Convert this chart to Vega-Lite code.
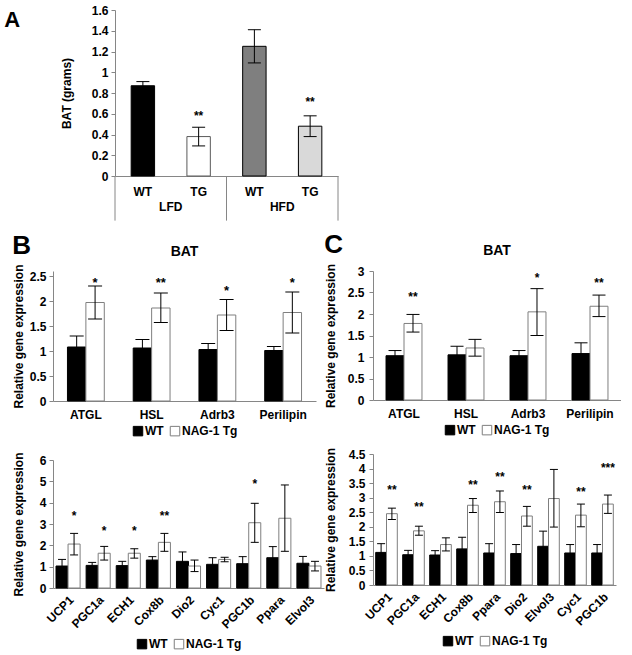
{
  "$schema": "https://vega.github.io/schema/vega-lite/v6.json",
  "padding": {"left": 4, "top": 4, "right": 0, "bottom": 0},
  "background": "white",
  "config": {
    "font": "Liberation Sans",
    "view": {"stroke": null},
    "axis": {"domainColor": "#868686", "tickColor": "#868686", "labelFont": "Liberation Sans", "labelFontSize": 12, "labelFontWeight": "bold", "labelColor": "#000000", "titleFont": "Liberation Sans", "titleFontSize": 12, "titleFontWeight": "bold", "titleColor": "#000000", "grid": false, "tickSize": 4, "labelPadding": 3, "labelOverlap": false},
    "axisX": {"ticks": false},
    "axisY": {"titlePadding": 8},
    "legend": {"orient": "bottom", "direction": "horizontal", "symbolType": "square", "symbolSize": 90, "symbolStrokeWidth": 1, "labelFont": "Liberation Sans", "labelFontSize": 12, "labelFontWeight": "bold", "labelColor": "#000000", "columnPadding": 4, "labelOffset": 1, "offset": 5, "padding": 0, "layout": {"bottom": {"anchor": "middle"}}}
  },
  "datasets": {
    "a": [
      {"diet": "LFD", "genotype": "WT", "group": "LFD WT", "mean": 0.87, "lo": 0.83, "hi": 0.91, "sig": "", "sig_y": null},
      {"diet": "LFD", "genotype": "TG", "group": "LFD TG", "mean": 0.38, "lo": 0.29, "hi": 0.47, "sig": "**", "sig_y": 0.61},
      {"diet": "HFD", "genotype": "WT", "group": "HFD WT", "mean": 1.25, "lo": 1.09, "hi": 1.41, "sig": "", "sig_y": null},
      {"diet": "HFD", "genotype": "TG", "group": "HFD TG", "mean": 0.48, "lo": 0.38, "hi": 0.58, "sig": "**", "sig_y": 0.74}
    ],
    "b1": [
      {"gene": "ATGL", "genotype": "WT", "mean": 1.08, "lo": 0.86, "hi": 1.30, "sig": "", "sig_y": null},
      {"gene": "ATGL", "genotype": "NAG-1 Tg", "mean": 1.97, "lo": 1.64, "hi": 2.30, "sig": "*", "sig_y": 2.45},
      {"gene": "HSL", "genotype": "WT", "mean": 1.06, "lo": 0.89, "hi": 1.23, "sig": "", "sig_y": null},
      {"gene": "HSL", "genotype": "NAG-1 Tg", "mean": 1.86, "lo": 1.57, "hi": 2.16, "sig": "**", "sig_y": 2.45},
      {"gene": "Adrb3", "genotype": "WT", "mean": 1.03, "lo": 0.91, "hi": 1.15, "sig": "", "sig_y": null},
      {"gene": "Adrb3", "genotype": "NAG-1 Tg", "mean": 1.72, "lo": 1.41, "hi": 2.03, "sig": "*", "sig_y": 2.28},
      {"gene": "Perilipin", "genotype": "WT", "mean": 1.01, "lo": 0.93, "hi": 1.09, "sig": "", "sig_y": null},
      {"gene": "Perilipin", "genotype": "NAG-1 Tg", "mean": 1.77, "lo": 1.36, "hi": 2.18, "sig": "*", "sig_y": 2.45}
    ],
    "c1": [
      {"gene": "ATGL", "genotype": "WT", "mean": 1.03, "lo": 0.91, "hi": 1.15, "sig": "", "sig_y": null},
      {"gene": "ATGL", "genotype": "NAG-1 Tg", "mean": 1.78, "lo": 1.58, "hi": 1.99, "sig": "**", "sig_y": 2.46},
      {"gene": "HSL", "genotype": "WT", "mean": 1.05, "lo": 0.85, "hi": 1.25, "sig": "", "sig_y": null},
      {"gene": "HSL", "genotype": "NAG-1 Tg", "mean": 1.21, "lo": 1.02, "hi": 1.41, "sig": "", "sig_y": null},
      {"gene": "Adrb3", "genotype": "WT", "mean": 1.03, "lo": 0.91, "hi": 1.15, "sig": "", "sig_y": null},
      {"gene": "Adrb3", "genotype": "NAG-1 Tg", "mean": 2.05, "lo": 1.50, "hi": 2.59, "sig": "*", "sig_y": 2.90},
      {"gene": "Perilipin", "genotype": "WT", "mean": 1.08, "lo": 0.83, "hi": 1.33, "sig": "", "sig_y": null},
      {"gene": "Perilipin", "genotype": "NAG-1 Tg", "mean": 2.18, "lo": 1.94, "hi": 2.44, "sig": "**", "sig_y": 2.80}
    ],
    "b2": [
      {"gene": "UCP1", "genotype": "WT", "mean": 1.03, "lo": 0.72, "hi": 1.34, "sig": "", "sig_y": null},
      {"gene": "UCP1", "genotype": "NAG-1 Tg", "mean": 2.06, "lo": 1.55, "hi": 2.56, "sig": "*", "sig_y": 3.53},
      {"gene": "PGC1a", "genotype": "WT", "mean": 1.06, "lo": 0.92, "hi": 1.20, "sig": "", "sig_y": null},
      {"gene": "PGC1a", "genotype": "NAG-1 Tg", "mean": 1.63, "lo": 1.31, "hi": 1.95, "sig": "*", "sig_y": 2.8},
      {"gene": "ECH1", "genotype": "WT", "mean": 1.05, "lo": 0.85, "hi": 1.25, "sig": "", "sig_y": null},
      {"gene": "ECH1", "genotype": "NAG-1 Tg", "mean": 1.63, "lo": 1.40, "hi": 1.84, "sig": "*", "sig_y": 2.8},
      {"gene": "Cox8b", "genotype": "WT", "mean": 1.31, "lo": 1.15, "hi": 1.47, "sig": "", "sig_y": null},
      {"gene": "Cox8b", "genotype": "NAG-1 Tg", "mean": 2.14, "lo": 1.72, "hi": 2.56, "sig": "**", "sig_y": 3.5},
      {"gene": "Dio2", "genotype": "WT", "mean": 1.25, "lo": 0.81, "hi": 1.69, "sig": "", "sig_y": null},
      {"gene": "Dio2", "genotype": "NAG-1 Tg", "mean": 1.03, "lo": 0.77, "hi": 1.31, "sig": "", "sig_y": null},
      {"gene": "Cyc1", "genotype": "WT", "mean": 1.11, "lo": 0.80, "hi": 1.42, "sig": "", "sig_y": null},
      {"gene": "Cyc1", "genotype": "NAG-1 Tg", "mean": 1.34, "lo": 1.23, "hi": 1.44, "sig": "", "sig_y": null},
      {"gene": "PGC1b", "genotype": "WT", "mean": 1.14, "lo": 0.81, "hi": 1.47, "sig": "", "sig_y": null},
      {"gene": "PGC1b", "genotype": "NAG-1 Tg", "mean": 3.06, "lo": 2.14, "hi": 3.97, "sig": "*", "sig_y": 5.02},
      {"gene": "Ppara", "genotype": "WT", "mean": 1.42, "lo": 0.90, "hi": 1.94, "sig": "", "sig_y": null},
      {"gene": "Ppara", "genotype": "NAG-1 Tg", "mean": 3.27, "lo": 1.72, "hi": 4.83, "sig": "", "sig_y": null},
      {"gene": "Elvol3", "genotype": "WT", "mean": 1.16, "lo": 0.84, "hi": 1.48, "sig": "", "sig_y": null},
      {"gene": "Elvol3", "genotype": "NAG-1 Tg", "mean": 1.03, "lo": 0.80, "hi": 1.25, "sig": "", "sig_y": null}
    ],
    "c2": [
      {"gene": "UCP1", "genotype": "WT", "mean": 1.12, "lo": 0.82, "hi": 1.42, "sig": "", "sig_y": null},
      {"gene": "UCP1", "genotype": "NAG-1 Tg", "mean": 2.45, "lo": 2.25, "hi": 2.64, "sig": "**", "sig_y": 3.36},
      {"gene": "PGC1a", "genotype": "WT", "mean": 1.04, "lo": 0.89, "hi": 1.19, "sig": "", "sig_y": null},
      {"gene": "PGC1a", "genotype": "NAG-1 Tg", "mean": 1.86, "lo": 1.71, "hi": 2.02, "sig": "**", "sig_y": 2.78},
      {"gene": "ECH1", "genotype": "WT", "mean": 1.03, "lo": 0.88, "hi": 1.18, "sig": "", "sig_y": null},
      {"gene": "ECH1", "genotype": "NAG-1 Tg", "mean": 1.39, "lo": 1.17, "hi": 1.62, "sig": "", "sig_y": null},
      {"gene": "Cox8b", "genotype": "WT", "mean": 1.24, "lo": 0.84, "hi": 1.64, "sig": "", "sig_y": null},
      {"gene": "Cox8b", "genotype": "NAG-1 Tg", "mean": 2.74, "lo": 2.49, "hi": 2.97, "sig": "**", "sig_y": 3.55},
      {"gene": "Ppara", "genotype": "WT", "mean": 1.10, "lo": 0.78, "hi": 1.42, "sig": "", "sig_y": null},
      {"gene": "Ppara", "genotype": "NAG-1 Tg", "mean": 2.86, "lo": 2.49, "hi": 3.23, "sig": "**", "sig_y": 3.83},
      {"gene": "Dio2", "genotype": "WT", "mean": 1.08, "lo": 0.77, "hi": 1.39, "sig": "", "sig_y": null},
      {"gene": "Dio2", "genotype": "NAG-1 Tg", "mean": 2.37, "lo": 2.02, "hi": 2.70, "sig": "**", "sig_y": 3.38},
      {"gene": "Elvol3", "genotype": "WT", "mean": 1.33, "lo": 0.81, "hi": 1.85, "sig": "", "sig_y": null},
      {"gene": "Elvol3", "genotype": "NAG-1 Tg", "mean": 2.97, "lo": 1.99, "hi": 3.97, "sig": "", "sig_y": null},
      {"gene": "Cyc1", "genotype": "WT", "mean": 1.10, "lo": 0.81, "hi": 1.39, "sig": "", "sig_y": null},
      {"gene": "Cyc1", "genotype": "NAG-1 Tg", "mean": 2.40, "lo": 2.00, "hi": 2.78, "sig": "**", "sig_y": 3.31},
      {"gene": "PGC1b", "genotype": "WT", "mean": 1.10, "lo": 0.81, "hi": 1.39, "sig": "", "sig_y": null},
      {"gene": "PGC1b", "genotype": "NAG-1 Tg", "mean": 2.78, "lo": 2.46, "hi": 3.09, "sig": "***", "sig_y": 4.12}
    ]
  },
  "resolve": {"scale": {"fill": "independent", "stroke": "independent", "xOffset": "independent"}},
  "spacing": 10,
  "vconcat": [
    {
      "width": 285,
      "height": 166,
      "title": {"text": "A", "orient": "left", "angle": 0, "anchor": "end", "align": "right", "baseline": "top", "fontSize": 22, "fontWeight": "bold", "offset": 17, "frame": "group"},
      "data": {"name": "a"},
      "encoding": {
        "x": {"field": "diet", "type": "nominal", "sort": ["LFD", "HFD"], "scale": {"paddingInner": 0, "paddingOuter": 0, "range": [62, 285]}, "axis": {"title": null, "labelAngle": 0, "labelPadding": 25}}
      },
      "layer": [
        {
          "mark": {"type": "bar", "strokeWidth": 1},
          "encoding": {
            "xOffset": {"field": "genotype", "type": "nominal", "sort": ["WT", "TG"], "scale": {"paddingInner": 0.58, "paddingOuter": 0.29}},
            "y": {"field": "mean", "type": "quantitative", "stack": null, "scale": {"domain": [0, 1.6]}, "axis": {"title": "BAT (grams)", "offset": -62, "titlePadding": 18, "tickCount": 20, "labelOverlap": false, "values": [0, 0.2, 0.4, 0.6, 0.8, 1, 1.2, 1.4, 1.6], "format": "~g"}},
            "fill": {"field": "group", "type": "nominal", "scale": {"domain": ["LFD WT", "LFD TG", "HFD WT", "HFD TG"], "range": ["#000000", "#ffffff", "#7f7f7f", "#d9d9d9"]}, "legend": null},
            "stroke": {"field": "group", "type": "nominal", "scale": {"domain": ["LFD WT", "LFD TG", "HFD WT", "HFD TG"], "range": ["#000000", "#5a5a5a", "#000000", "#000000"]}, "legend": null}
          }
        },
        {
          "mark": {"type": "rule", "color": "#000000", "strokeWidth": 1},
          "encoding": {"xOffset": {"field": "genotype", "type": "nominal", "sort": ["WT", "TG"]}, "y": {"field": "lo", "type": "quantitative"}, "y2": {"field": "hi"}}
        },
        {
          "mark": {"type": "tick", "color": "#000000", "size": 13, "thickness": 1, "opacity": 1},
          "encoding": {"xOffset": {"field": "genotype", "type": "nominal", "sort": ["WT", "TG"]}, "y": {"field": "lo", "type": "quantitative"}}
        },
        {
          "mark": {"type": "tick", "color": "#000000", "size": 13, "thickness": 1, "opacity": 1},
          "encoding": {"xOffset": {"field": "genotype", "type": "nominal", "sort": ["WT", "TG"]}, "y": {"field": "hi", "type": "quantitative"}}
        },
        {
          "transform": [{"filter": "datum.sig != ''"}],
          "mark": {"type": "text", "fontSize": 12, "fontWeight": "bold", "baseline": "alphabetic", "dy": 7, "color": "#000000"},
          "encoding": {"xOffset": {"field": "genotype", "type": "nominal", "sort": ["WT", "TG"]}, "y": {"field": "sig_y", "type": "quantitative"}, "text": {"field": "sig"}}
        },
        {
          "mark": {"type": "text", "fontSize": 12, "fontWeight": "bold", "baseline": "middle", "color": "#000000"},
          "encoding": {"xOffset": {"field": "genotype", "type": "nominal", "sort": ["WT", "TG"]}, "y": {"datum": -0.155}, "text": {"field": "genotype"}}
        },
        {
          "transform": [{"filter": "datum.genotype == 'WT'"}],
          "mark": {"type": "rule", "color": "#868686", "strokeWidth": 1},
          "encoding": {"x": {"field": "diet", "type": "nominal", "bandPosition": 0}, "y": {"datum": 0}, "y2": {"datum": -0.43}}
        },
        {
          "transform": [{"filter": "datum.genotype == 'TG' && datum.diet == 'HFD'"}],
          "mark": {"type": "rule", "color": "#868686", "strokeWidth": 1},
          "encoding": {"x": {"field": "diet", "type": "nominal", "bandPosition": 1}, "y": {"datum": 0}, "y2": {"datum": -0.43}}
        }
      ]
    },
    {
      "resolve": {"scale": {"fill": "independent", "stroke": "independent", "xOffset": "independent"}},
      "spacing": 0,
      "hconcat": [
        {
          "title": {"text": "B", "anchor": "start", "frame": "bounds", "fontSize": 26, "fontWeight": "bold", "offset": -14},
          "resolve": {"scale": {"fill": "independent", "stroke": "independent", "xOffset": "independent"}},
          "spacing": 13,
          "vconcat": [
            {
              "width": 263,
              "height": 130,
              "title": {"text": "BAT", "fontSize": 14, "fontWeight": "bold", "offset": 5, "anchor": "middle"},
              "data": {"name": "b1"},
              "encoding": {
                "x": {"field": "gene", "type": "nominal", "sort": ["ATGL", "HSL", "Adrb3", "Perilipin"], "scale": {"paddingInner": 0.44, "paddingOuter": 0.22}, "axis": {"title": null, "labelAngle": 0, "labelPadding": 8}},
                "xOffset": {"field": "genotype", "type": "nominal", "sort": ["WT", "NAG-1 Tg"]}
              },
              "layer": [
                {
                  "mark": {"type": "bar", "strokeWidth": 1},
                  "encoding": {
                    "y": {"field": "mean", "type": "quantitative", "stack": null, "scale": {"domain": [0, 2.5]}, "axis": {"title": "Relative gene expression", "titlePadding": 4, "tickCount": 20, "labelOverlap": false, "values": [0, 0.5, 1, 1.5, 2, 2.5], "format": "~g"}},
                    "fill": {"field": "genotype", "type": "nominal", "scale": {"domain": ["WT", "NAG-1 Tg"], "range": ["#000000", "#ffffff"]}, "legend": {"title": null}},
                    "stroke": {"field": "genotype", "type": "nominal", "scale": {"domain": ["WT", "NAG-1 Tg"], "range": ["#000000", "#7f7f7f"]}, "legend": {"title": null}}
                  }
                },
                {"mark": {"type": "rule", "color": "#000000", "strokeWidth": 1}, "encoding": {"y": {"field": "lo", "type": "quantitative"}, "y2": {"field": "hi"}}},
                {"mark": {"type": "tick", "color": "#000000", "size": 14, "thickness": 1, "opacity": 1}, "encoding": {"y": {"field": "lo", "type": "quantitative"}}},
                {"mark": {"type": "tick", "color": "#000000", "size": 14, "thickness": 1, "opacity": 1}, "encoding": {"y": {"field": "hi", "type": "quantitative"}}},
                {
                  "transform": [{"filter": "datum.sig != ''"}],
                  "mark": {"type": "text", "fontSize": 13, "fontWeight": "bold", "baseline": "alphabetic", "dy": 8, "color": "#000000"},
                  "encoding": {"y": {"field": "sig_y", "type": "quantitative"}, "text": {"field": "sig"}}
                }
              ]
            },
            {
              "width": 271,
              "height": 128,
              "data": {"name": "b2"},
              "encoding": {
                "x": {"field": "gene", "type": "nominal", "sort": ["UCP1", "PGC1a", "ECH1", "Cox8b", "Dio2", "Cyc1", "PGC1b", "Ppara", "Elvol3"], "scale": {"paddingInner": 0.2, "paddingOuter": 0.1}, "axis": {"title": null, "labelAngle": -45, "labelPadding": 6}},
                "xOffset": {"field": "genotype", "type": "nominal", "sort": ["WT", "NAG-1 Tg"]}
              },
              "layer": [
                {
                  "mark": {"type": "bar", "strokeWidth": 1},
                  "encoding": {
                    "y": {"field": "mean", "type": "quantitative", "stack": null, "scale": {"domain": [0, 6]}, "axis": {"title": "Relative gene expression", "titlePadding": 14, "tickCount": 20, "labelOverlap": false, "values": [0, 1, 2, 3, 4, 5, 6], "format": "~g"}},
                    "fill": {"field": "genotype", "type": "nominal", "scale": {"domain": ["WT", "NAG-1 Tg"], "range": ["#000000", "#ffffff"]}, "legend": {"title": null, "offset": 7}},
                    "stroke": {"field": "genotype", "type": "nominal", "scale": {"domain": ["WT", "NAG-1 Tg"], "range": ["#000000", "#7f7f7f"]}, "legend": {"title": null, "offset": 7}}
                  }
                },
                {"mark": {"type": "rule", "color": "#000000", "strokeWidth": 1}, "encoding": {"y": {"field": "lo", "type": "quantitative"}, "y2": {"field": "hi"}}},
                {"mark": {"type": "tick", "color": "#000000", "size": 8, "thickness": 1, "opacity": 1}, "encoding": {"y": {"field": "lo", "type": "quantitative"}}},
                {"mark": {"type": "tick", "color": "#000000", "size": 8, "thickness": 1, "opacity": 1}, "encoding": {"y": {"field": "hi", "type": "quantitative"}}},
                {
                  "transform": [{"filter": "datum.sig != ''"}],
                  "mark": {"type": "text", "fontSize": 12, "fontWeight": "bold", "baseline": "alphabetic", "dy": 7, "color": "#000000"},
                  "encoding": {"y": {"field": "sig_y", "type": "quantitative"}, "text": {"field": "sig"}}
                }
              ]
            }
          ]
        },
        {
          "title": {"text": "C", "anchor": "start", "frame": "bounds", "fontSize": 26, "fontWeight": "bold", "offset": -14},
          "resolve": {"scale": {"fill": "independent", "stroke": "independent", "xOffset": "independent"}},
          "spacing": 10,
          "vconcat": [
            {
              "width": 248,
              "height": 129,
              "title": {"text": "BAT", "fontSize": 14, "fontWeight": "bold", "offset": 5, "anchor": "middle"},
              "data": {"name": "c1"},
              "encoding": {
                "x": {"field": "gene", "type": "nominal", "sort": ["ATGL", "HSL", "Adrb3", "Perilipin"], "scale": {"paddingInner": 0.42, "paddingOuter": 0.21}, "axis": {"title": null, "labelAngle": 0, "labelPadding": 8}},
                "xOffset": {"field": "genotype", "type": "nominal", "sort": ["WT", "NAG-1 Tg"]}
              },
              "layer": [
                {
                  "mark": {"type": "bar", "strokeWidth": 1},
                  "encoding": {
                    "y": {"field": "mean", "type": "quantitative", "stack": null, "scale": {"domain": [0, 3]}, "axis": {"title": "Relative gene expression", "titlePadding": 10, "labelPadding": 5, "tickCount": 20, "labelOverlap": false, "values": [0, 0.5, 1, 1.5, 2, 2.5, 3], "format": "~g"}},
                    "fill": {"field": "genotype", "type": "nominal", "scale": {"domain": ["WT", "NAG-1 Tg"], "range": ["#000000", "#ffffff"]}, "legend": {"title": null}},
                    "stroke": {"field": "genotype", "type": "nominal", "scale": {"domain": ["WT", "NAG-1 Tg"], "range": ["#000000", "#7f7f7f"]}, "legend": {"title": null}}
                  }
                },
                {"mark": {"type": "rule", "color": "#000000", "strokeWidth": 1}, "encoding": {"y": {"field": "lo", "type": "quantitative"}, "y2": {"field": "hi"}}},
                {"mark": {"type": "tick", "color": "#000000", "size": 13, "thickness": 1, "opacity": 1}, "encoding": {"y": {"field": "lo", "type": "quantitative"}}},
                {"mark": {"type": "tick", "color": "#000000", "size": 13, "thickness": 1, "opacity": 1}, "encoding": {"y": {"field": "hi", "type": "quantitative"}}},
                {
                  "transform": [{"filter": "datum.sig != ''"}],
                  "mark": {"type": "text", "fontSize": 12, "fontWeight": "bold", "baseline": "alphabetic", "dy": 7, "color": "#000000"},
                  "encoding": {"y": {"field": "sig_y", "type": "quantitative"}, "text": {"field": "sig"}}
                }
              ]
            },
            {
              "width": 243,
              "height": 131,
              "data": {"name": "c2"},
              "encoding": {
                "x": {"field": "gene", "type": "nominal", "sort": ["UCP1", "PGC1a", "ECH1", "Cox8b", "Ppara", "Dio2", "Elvol3", "Cyc1", "PGC1b"], "scale": {"paddingInner": 0.2, "paddingOuter": 0.1}, "axis": {"title": null, "labelAngle": -45, "labelPadding": 6}},
                "xOffset": {"field": "genotype", "type": "nominal", "sort": ["WT", "NAG-1 Tg"]}
              },
              "layer": [
                {
                  "mark": {"type": "bar", "strokeWidth": 1},
                  "encoding": {
                    "y": {"field": "mean", "type": "quantitative", "stack": null, "scale": {"domain": [0, 4.5]}, "axis": {"title": "Relative gene expression", "titlePadding": 11, "labelPadding": 4, "tickCount": 20, "labelOverlap": false, "values": [0, 0.5, 1, 1.5, 2, 2.5, 3, 3.5, 4, 4.5], "format": "~g"}},
                    "fill": {"field": "genotype", "type": "nominal", "scale": {"domain": ["WT", "NAG-1 Tg"], "range": ["#000000", "#ffffff"]}, "legend": {"title": null, "offset": 7}},
                    "stroke": {"field": "genotype", "type": "nominal", "scale": {"domain": ["WT", "NAG-1 Tg"], "range": ["#000000", "#7f7f7f"]}, "legend": {"title": null, "offset": 7}}
                  }
                },
                {"mark": {"type": "rule", "color": "#000000", "strokeWidth": 1}, "encoding": {"y": {"field": "lo", "type": "quantitative"}, "y2": {"field": "hi"}}},
                {"mark": {"type": "tick", "color": "#000000", "size": 8, "thickness": 1, "opacity": 1}, "encoding": {"y": {"field": "lo", "type": "quantitative"}}},
                {"mark": {"type": "tick", "color": "#000000", "size": 8, "thickness": 1, "opacity": 1}, "encoding": {"y": {"field": "hi", "type": "quantitative"}}},
                {
                  "transform": [{"filter": "datum.sig != ''"}],
                  "mark": {"type": "text", "fontSize": 12, "fontWeight": "bold", "baseline": "alphabetic", "dy": 7, "color": "#000000"},
                  "encoding": {"y": {"field": "sig_y", "type": "quantitative"}, "text": {"field": "sig"}}
                }
              ]
            }
          ]
        }
      ]
    }
  ]
}
